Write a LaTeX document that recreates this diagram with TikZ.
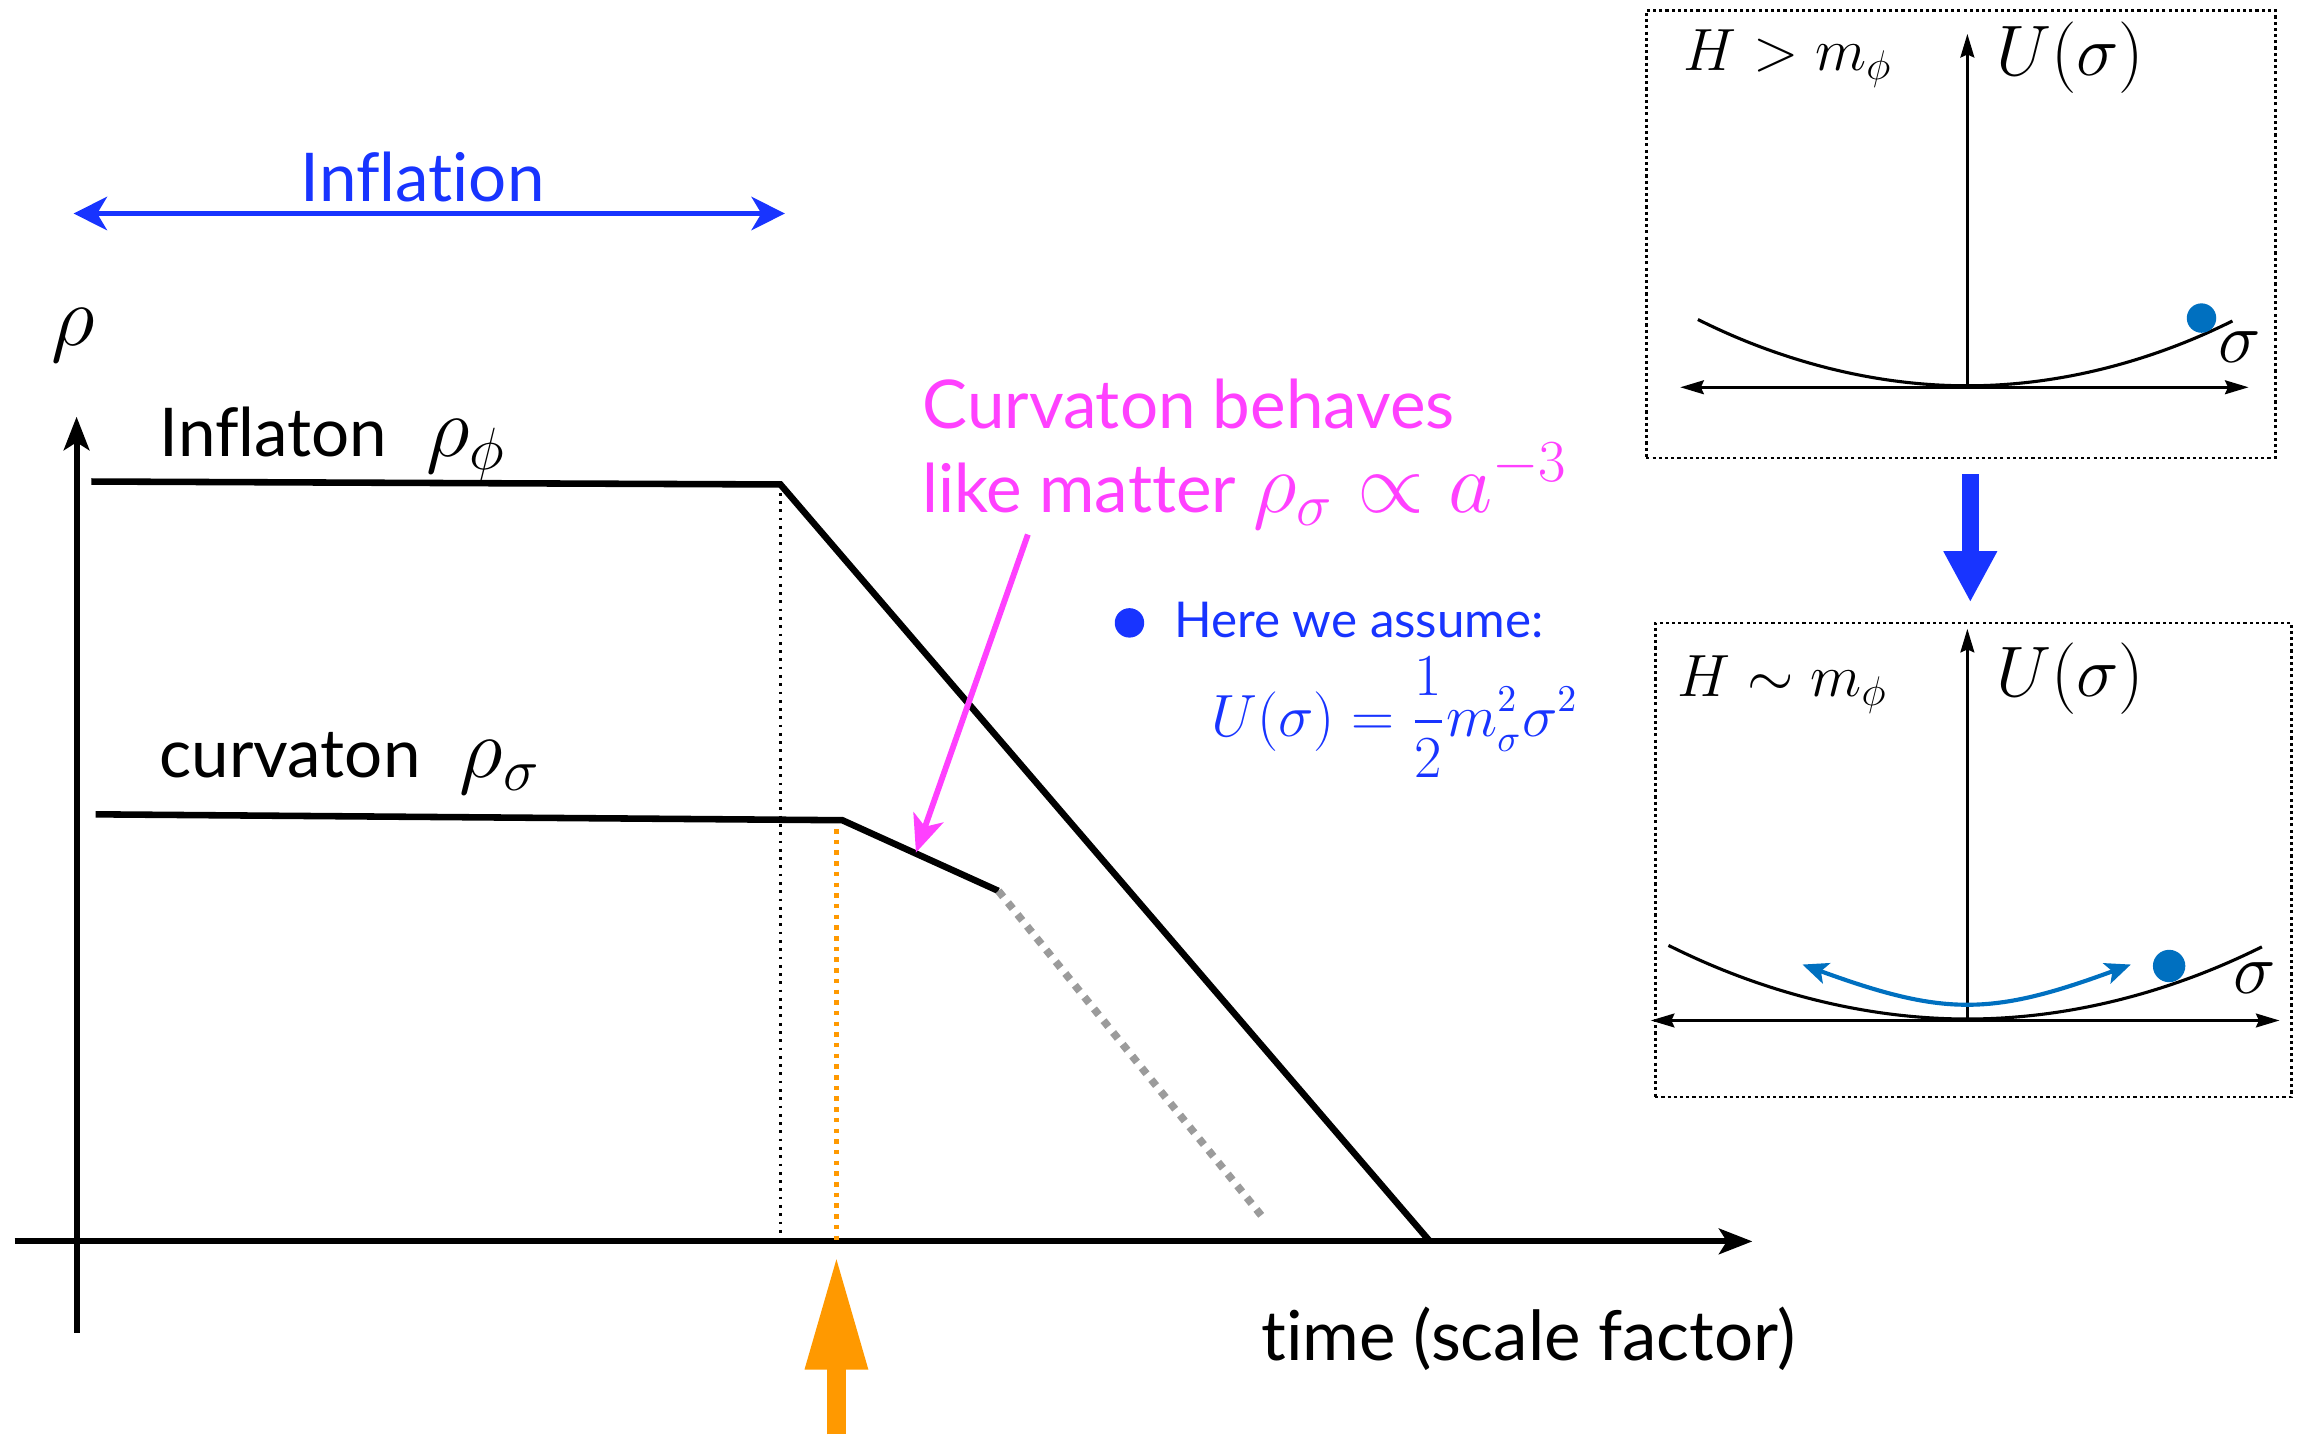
\documentclass[tikz,border=0pt]{standalone}
\usepackage[no-math]{fontspec}
\setmainfont{Lato}[Ligatures=NoCommon]
\usepackage{amsmath}
\usetikzlibrary{arrows.meta, positioning, calc}
\definecolor{infblue}{RGB}{24,52,255}
\definecolor{curvmag}{RGB}{255,64,255}
\definecolor{decayorange}{RGB}{255,153,0}
\definecolor{ballblue}{RGB}{0,112,192}
\definecolor{tailgray}{RGB}{155,155,155}

\begin{document}
\begin{tikzpicture}[x=0.015cm, y=-0.015cm,
    axtip/.tip={Stealth[length=0.34cm, width=0.26cm, inset=0.08cm]},
    ptip/.tip={Stealth[length=0.24cm, width=0.14cm, inset=0.03cm]},
    axis/.style={line width=1.7pt, -axtip},
    curve/.style={line width=1.9pt},
    lbl/.style={font=\fontsize{19.5}{24}\selectfont, inner sep=0pt, anchor=base west},
    panel/.style={draw, line width=0.8pt, dash pattern=on 0.9pt off 0.9pt, inner sep=0pt},
    paxis/.style={line width=0.9pt},
    ball/.style={circle, fill=ballblue, inner sep=0pt},
    pmath/.style={inner sep=0pt, anchor=base west}]

\useasboundingbox (0,0) rectangle (1568,974);

%% ── Main axes ────────────────────────────────────────────────────────────────
\coordinate (origin) at (52,843);
\coordinate (ybot)   at (52,905);
\coordinate (ytop)   at (52,283);
\coordinate (xleft)  at (10,843);
\coordinate (xright) at (1190,843);
\draw[axis] (ybot) -- (ytop);
\draw[axis] (xleft) -- (xright);

\node[font=\fontsize{28}{32}\selectfont, inner sep=0pt] (rho) at (50,228) {$\rho$};
\node[lbl, font=\fontsize{20}{24}\selectfont, anchor=base] (time) at (1038,924) {time (scale factor)};

%% ── Inflation period ─────────────────────────────────────────────────────────
\coordinate (infL) at (50,145);
\coordinate (infR) at (533,145);
\draw[infblue, line width=1.5pt,
      {Stealth[length=0.34cm, width=0.34cm, inset=0.1cm]}-{Stealth[length=0.34cm, width=0.34cm, inset=0.1cm]}]
    (infL) -- (infR);
\node[lbl, anchor=base, text=infblue] (inflation) at (287,137) {Inflation};

%% ── Inflaton ─────────────────────────────────────────────────────────────────
\node[lbl] (inflaton) at (108,310)
    {Inflaton\hspace{0.4cm}{\fontsize{25}{30}\selectfont$\rho_\phi$}};
\coordinate (phiA) at (62,327);
\coordinate (phiB) at (530,329);
\coordinate (phiC) at (971,843);
\draw[curve] (phiA) -- (phiB) -- (phiC);
\draw[line width=0.8pt, dash pattern=on 0.8pt off 1.6pt] (phiB) -- (phiB |- origin);

%% ── Curvaton ─────────────────────────────────────────────────────────────────
\node[lbl] (curvaton) at (108,528)
    {curvaton\hspace{0.4cm}{\fontsize{25}{30}\selectfont$\rho_\sigma$}};
\coordinate (sigA) at (65,553);
\coordinate (sigB) at (572,557);
\coordinate (sigC) at (678,605);
\coordinate (sigD) at (857,826);
\draw[curve] (sigA) -- (sigB) -- (sigC);
\draw[tailgray, line width=2.2pt, dash pattern=on 2.2pt off 2.2pt] (sigC) -- (sigD);

%% decay time
\coordinate (decay) at (568,563);
\coordinate (decaytip) at (568,852);
\coordinate (decaytail) at (568,974);
\draw[decayorange, line width=1.3pt, dash pattern=on 1.3pt off 1.8pt] (decay) -- (decay |- origin);
\draw[decayorange, line width=0.19cm, -{Triangle[length=1.17cm, width=0.59cm]}]
    (decaytail) -- (decaytip);

%% ── Matter-like note ─────────────────────────────────────────────────────────
\node[lbl, text=curvmag] (behaves) at (626,291) {Curvaton behaves};
\node[lbl, text=curvmag] (matter) at (626,348)
    {like matter {\fontsize{23.3}{27}\selectfont$\rho_\sigma\propto a^{-3}$}};
\coordinate (magtail) at (698,363);
\coordinate (magtip) at (622,579);
\draw[curvmag, line width=1.7pt, -{Stealth[length=0.38cm, width=0.32cm, inset=0.1cm]}]
    (magtail) -- (magtip);

%% ── Assumption ───────────────────────────────────────────────────────────────
\node[circle, fill=infblue, inner sep=0pt, minimum size=0.3cm] (bullet) at (767,423) {};
\node[lbl, font=\fontsize{14.3}{18}\selectfont, text=infblue] (assume) at (797,433) {Here we assume:};
\node[pmath, font=\fontsize{16}{19}\selectfont, text=infblue] (potential) at (822,500)
    {$\displaystyle U(\sigma)=\frac{1}{2}m_\sigma^2\sigma^2$};

%% ── Potential, H > m ─────────────────────────────────────────────────────────
\node[panel, minimum width=6.405cm, minimum height=4.56cm] (hipanel) at (1331.5,159) {};
\coordinate (hiO) at (1336,262);
\coordinate (hitop) at (1336,23);
\draw[paxis, -ptip] (hiO) -- (hitop);
\draw[paxis, ptip-ptip] (1141,263) -- (1527,263);
\draw[paxis] (1153,217) parabola bend (hiO) (1516,218);
\node[ball, minimum size=0.3cm] (hiball) at (1495,216) {};
\node[pmath, font=\fontsize{17}{20}\selectfont] (hicond) at (1143,48) {$H>m_\phi$};
\node[pmath, font=\fontsize{20}{24}\selectfont] (hiU) at (1355,51) {$U(\sigma)$};
\node[font=\fontsize{21}{24}\selectfont, inner sep=0pt] (hisig) at (1521,236) {$\sigma$};

%% transition
\draw[infblue, line width=0.17cm, -{Triangle[length=0.52cm, width=0.51cm]},
      shorten <=0.15cm, shorten >=0.21cm]
    (hipanel.south -| 1338,0) -- (1338,423);

%% ── Potential, H ~ m ─────────────────────────────────────────────────────────
\node[panel, minimum width=6.48cm, minimum height=4.83cm] (lopanel) at (1340,584) {};
\coordinate (loO) at (1336,692);
\coordinate (lotop) at (1336,427);
\draw[paxis, -ptip] (loO) -- (lotop);
\draw[paxis, ptip-ptip] (1121,693) -- (1548,693);
\draw[paxis] (1133,642) parabola bend (loO) (1536,643);
\node[ball, minimum size=0.33cm] (loball) at (1473,656) {};
\coordinate (swingL) at (1224,655);
\coordinate (swingR) at (1447,655);
\draw[ballblue, line width=1.2pt,
      {Stealth[length=0.26cm, width=0.22cm, inset=0.06cm]}-{Stealth[length=0.26cm, width=0.22cm, inset=0.06cm]}]
    (swingL) .. controls (1320,690) and (1352,690) .. (swingR);
\node[pmath, font=\fontsize{17}{20}\selectfont] (locond) at (1139,473) {$H\sim m_\phi$};
\node[pmath, font=\fontsize{20}{24}\selectfont] (loU) at (1355,473) {$U(\sigma)$};
\node[font=\fontsize{21}{24}\selectfont, inner sep=0pt] (losig) at (1531,664) {$\sigma$};

\end{tikzpicture}
\end{document}
